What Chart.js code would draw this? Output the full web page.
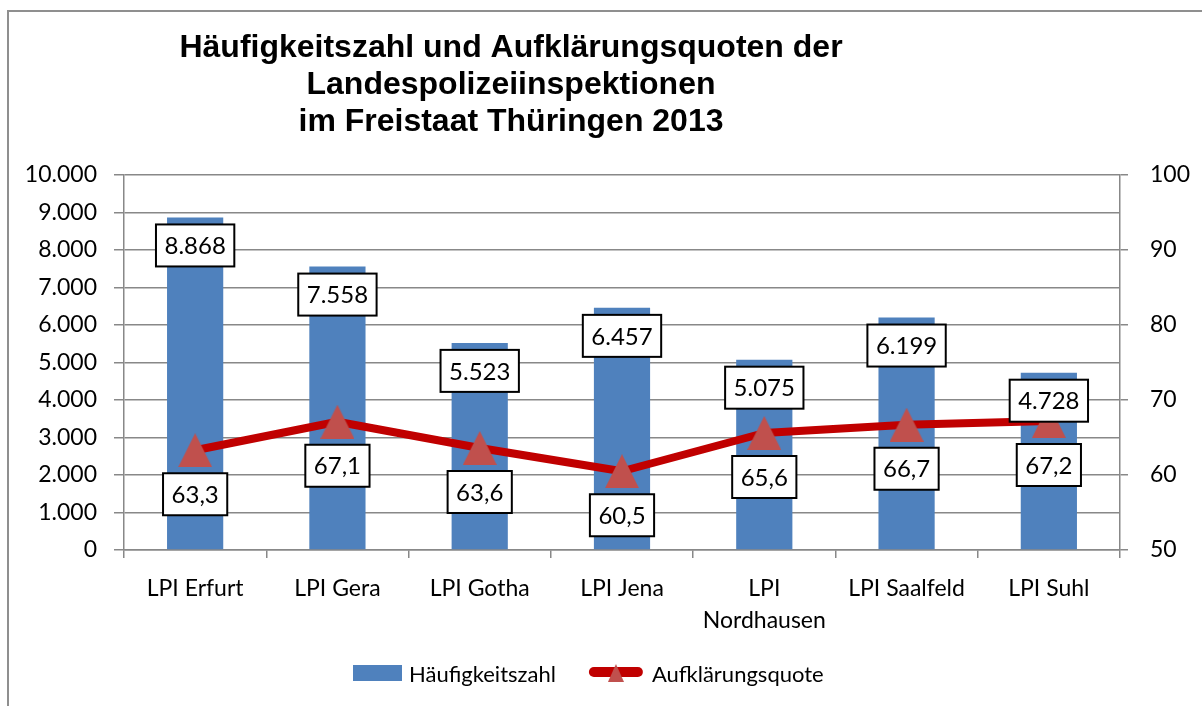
<!DOCTYPE html>
<html lang="de">
<head>
<meta charset="utf-8">
<title>Häufigkeitszahl und Aufklärungsquoten 2013</title>
<script src="https://cdn.jsdelivr.net/npm/chart.js@4/dist/chart.umd.min.js"></script>
<style>
  html, body { margin:0; padding:0; background:#fff; }
  #wrap { position:relative; width:1202px; height:706px; overflow:hidden; }
  #rahmen { position:absolute; left:7px; top:10px; width:1300px; height:800px; border:2px solid #8f8f8f; box-sizing:border-box; }
  #chart { position:absolute; left:0; top:0; }
</style>
</head>
<body>
<div id="wrap">
  <div id="rahmen"></div>
  <canvas id="chart" width="1202" height="706"></canvas>
</div>
<script>
// -------- Daten --------
const kategorien = ["LPI Erfurt", "LPI Gera", "LPI Gotha", "LPI Jena", ["LPI", "Nordhausen"], "LPI Saalfeld", "LPI Suhl"];
const haeufigkeitszahl = [8868, 7558, 5523, 6457, 5075, 6199, 4728];
const aufklaerungsquote = [63.3, 67.1, 63.6, 60.5, 65.6, 66.7, 67.2];
const titelZeilen = [
  "Häufigkeitszahl und Aufklärungsquoten der",
  "Landespolizeiinspektionen",
  "im Freistaat Thüringen 2013"
];
const linksMin = 0, linksMax = 10000, linksSchritt = 1000;
const rechtsMin = 50, rechtsMax = 100, rechtsSchritt = 10;

// -------- Farben / Schrift --------
const BLAU = "#4F81BD";
const ROT_LINIE = "#C00000";
const ROT_MARKER = "#C0504D";
const GRAU = "#888888";
const SCHRIFT = "Lato, 'Open Sans', sans-serif";

// -------- Zahlenformat (deutsch) --------
function tausender(v){
    return String(v).replace(/\B(?=(\d{3})+(?!\d))/g, ".");
}
function komma(v){
    return v.toFixed(1).replace(".", ",");
}

// -------- Dreieck-Marker --------
function dreieck(w, h, farbe){
    const c = document.createElement("canvas");
    c.width = w; c.height = h;
    const g = c.getContext("2d");
    g.fillStyle = farbe;
    g.beginPath();
    g.moveTo(w/2, 0);
    g.lineTo(w, h);
    g.lineTo(0, h);
    g.closePath();
    g.fill();
    return c;
}
const marker = dreieck(34, 34, ROT_MARKER);

// -------- Titel --------
const titelPlugin = {
    id: "titel",
    afterDraw(chart){
        const ctx = chart.ctx;
        ctx.save();
        ctx.font = "bold 32px 'Liberation Sans', Arial, sans-serif";
        ctx.fillStyle = "#000";
        ctx.textAlign = "center";
        ctx.textBaseline = "alphabetic";
        titelZeilen.forEach((z, i) => ctx.fillText(z, 511, 57 + i*37));
        ctx.restore();
    }
};

// -------- Datenbeschriftungen (Kästchen) --------
const beschriftung = {
    id: "beschriftung",
    afterDatasetsDraw(chart){
        const ctx = chart.ctx;
        ctx.save();
        ctx.font = "24px " + SCHRIFT;
        ctx.textAlign = "center";
        ctx.textBaseline = "middle";
        chart.data.datasets.forEach((ds, di) => {
            const meta = chart.getDatasetMeta(di);
            meta.data.forEach((el, i) => {
                const txt = ds.type === "bar" ? tausender(ds.data[i]) : komma(ds.data[i]);
                const dy = ds.type === "bar" ? 28 : 44;
                const w = ctx.measureText(txt).width + 17;
                const h = 42;
                const cx = el.x, cy = el.y + dy;
                ctx.fillStyle = "#fff";
                ctx.fillRect(cx - w/2, cy - h/2, w, h);
                ctx.lineWidth = 2;
                ctx.strokeStyle = "#000";
                ctx.strokeRect(cx - w/2, cy - h/2, w, h);
                ctx.fillStyle = "#000";
                ctx.fillText(txt, cx, cy + 1);
            });
        });
        ctx.restore();
    }
};

// -------- Legende --------
const legende = {
    id: "legende",
    afterDraw(chart){
        const ctx = chart.ctx;
        const y = 675;
        let x = 353;
        ctx.save();
        ctx.font = "22px " + SCHRIFT;
        ctx.textBaseline = "middle";
        // Balken
        ctx.fillStyle = BLAU;
        ctx.fillRect(x, y - 10, 49, 16);
        x += 56;
        ctx.fillStyle = "#000";
        ctx.fillText(chart.data.datasets[0].label, x, y);
        x += ctx.measureText(chart.data.datasets[0].label).width + 38;
        // Linie + Dreieck
        ctx.strokeStyle = ROT_LINIE;
        ctx.lineWidth = 10;
        ctx.lineCap = "round";
        ctx.beginPath();
        ctx.moveTo(x, y - 3);
        ctx.lineTo(x + 44, y - 3);
        ctx.stroke();
        ctx.drawImage(dreieck(16, 18, ROT_MARKER), x + 14, y - 11);
        x += 58;
        ctx.fillStyle = "#000";
        ctx.fillText(chart.data.datasets[1].label, x, y);
        ctx.restore();
    }
};

// -------- Diagramm --------
new Chart(document.getElementById("chart"), {
    data: {
        labels: kategorien,
        datasets: [
            {
                type: "bar",
                label: "Häufigkeitszahl",
                data: haeufigkeitszahl,
                backgroundColor: BLAU,
                barPercentage: 0.395,
                categoryPercentage: 1,
                yAxisID: "y",
                order: 1
            },
            {
                type: "line",
                label: "Aufklärungsquote",
                data: aufklaerungsquote,
                borderColor: ROT_LINIE,
                borderWidth: 8,
                borderCapStyle: "round",
                borderJoinStyle: "round",
                tension: 0,
                pointStyle: marker,
                pointRadius: 17,
                pointHoverRadius: 17,
                yAxisID: "y1",
                order: 0
            }
        ]
    },
    options: {
        responsive: false,
        animation: false,
        layout: { padding: { top: 175, bottom: 56, left: 0, right: 0 } },
        plugins: {
            legend: { display: false },
            title: { display: false },
            tooltip: { enabled: false }
        },
        scales: {
            x: {
                offset: true,
                grid: { offset: true, drawOnChartArea: false, drawTicks: true, tickLength: 8, color: GRAU, lineWidth: 1.5 },
                border: { color: GRAU, width: 1.5 },
                ticks: {
                    color: "#000", padding: 14, maxRotation: 0, autoSkip: false,
                    font: { family: SCHRIFT, size: 23, lineHeight: 1.4 }
                },
                afterFit(s){ s.height = 100; }
            },
            y: {
                position: "left",
                min: linksMin, max: linksMax,
                grid: { color: GRAU, lineWidth: 1.5, tickLength: 10 },
                border: { color: GRAU, width: 1.5 },
                ticks: {
                    stepSize: linksSchritt, color: "#000", padding: 17,
                    font: { family: SCHRIFT, size: 23 },
                    callback: v => tausender(v)
                },
                afterFit(s){ s.width = 124; }
            },
            y1: {
                position: "right",
                min: rechtsMin, max: rechtsMax,
                grid: { drawOnChartArea: false, color: GRAU, lineWidth: 1.5, tickLength: 8 },
                border: { color: GRAU, width: 1.5 },
                ticks: {
                    stepSize: rechtsSchritt, color: "#000", padding: 22,
                    font: { family: SCHRIFT, size: 23 }
                },
                afterFit(s){ s.width = 82; }
            }
        }
    },
    plugins: [beschriftung, titelPlugin, legende]
});
</script>
</body>
</html>
